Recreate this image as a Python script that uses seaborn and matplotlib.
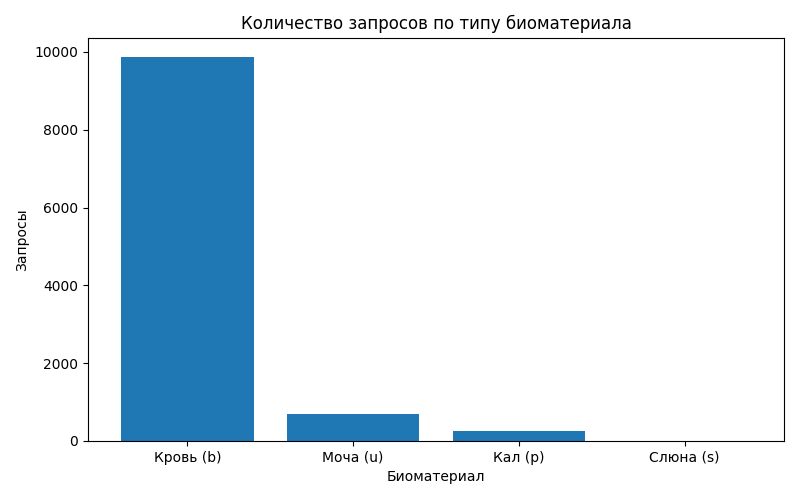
import matplotlib
matplotlib.use("Agg")
import matplotlib.pyplot as plt
import seaborn as sns
import pandas as pd

materials = ['Кровь (b)', 'Моча (u)', 'Кал (p)', 'Слюна (s)']
requests = [9870, 690, 265, 3]

df = pd.DataFrame({'Биоматериал': materials, 'Запросы': requests})

fig, ax = plt.subplots(figsize=(8, 5), dpi=100)
sns.barplot(data=df, x='Биоматериал', y='Запросы', color='#1f77b4', saturation=1,
            width=0.8, ax=ax)
ax.set_title('Количество запросов по типу биоматериала', fontsize=12)
ax.set_xlim(-0.6, 3.6)
ax.set_ylim(0, 10370)
plt.subplots_adjust(left=0.11, right=0.98, top=0.925, bottom=0.118)
plt.savefig('out.png')
